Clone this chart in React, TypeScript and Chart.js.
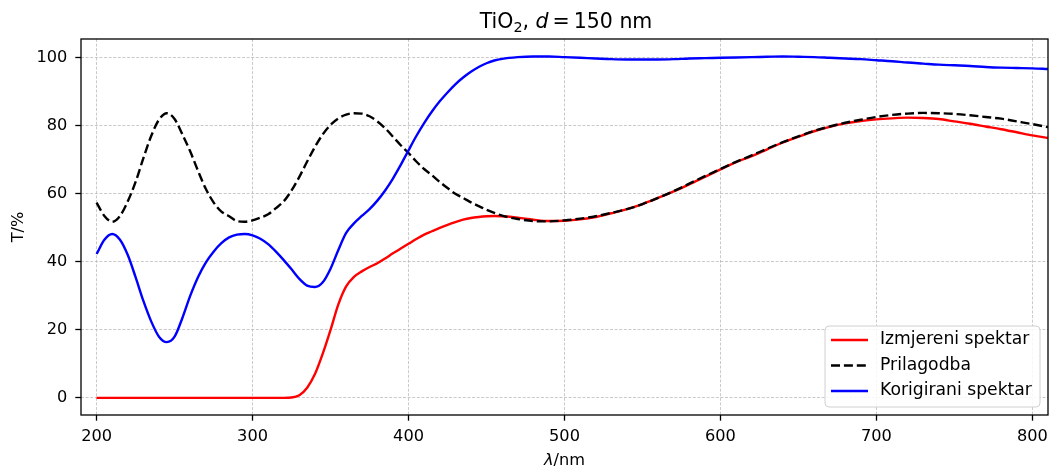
import React, { useEffect, useRef } from "react";
import { Chart, registerables } from "chart.js";

Chart.register(...registerables);

const wavelengths = [
  200, 205, 210, 215, 220, 225, 230, 235, 240, 245,
  250, 255, 260, 265, 270, 275, 280, 285, 290, 295,
  300, 305, 310, 315, 320, 325, 330, 335, 340, 345,
  350, 355, 360, 365, 370, 375, 380, 385, 390, 395,
  400, 405, 410, 415, 420, 425, 430, 435, 440, 445,
  450, 455, 460,
  470, 480, 490, 500, 510, 520, 530, 540, 550, 560,
  570, 580, 590, 600, 610, 620, 630, 640, 650, 660,
  670, 680, 690, 700, 710, 720, 730, 740, 750, 760,
  770, 780, 790, 800, 810,
];

// Izmjereni spektar (measured)
const measured = [
  0, 0, 0, 0, 0, 0, 0, 0, 0, 0,
  0, 0, 0, 0, 0, 0, 0, 0, 0, 0,
  0, 0, 0, 0, 0, 0.1, 0.8, 3.0, 7.0, 13.0,
  20.0, 27.5, 32.8, 35.6, 37.2, 38.5, 39.6, 41.0, 42.5, 43.9,
  45.3, 46.7, 48.0, 49.0, 50.0, 50.9, 51.7, 52.4, 52.9, 53.2,
  53.4, 53.5, 53.4,
  53.0, 52.4, 52.0, 52.1, 52.5, 53.2, 54.3, 55.5, 57.0, 58.8,
  60.7, 62.8, 65.0, 67.2, 69.3, 71.1, 73.1, 75.1, 76.8, 78.4,
  79.7, 80.7, 81.4, 81.9, 82.2, 82.4, 82.3, 82.0, 81.3, 80.6,
  79.8, 79.0, 78.1, 77.2, 76.4,
];

// Prilagodba (fit)
const fitted = [
  57.4, 53.5, 51.8, 53.5, 57.8, 63.5, 70.5, 77.0, 81.8, 83.7,
  82.0, 77.5, 72.5, 66.8, 61.5, 57.5, 54.8, 53.4, 52.0, 51.8,
  52.2, 53.0, 54.0, 55.8, 57.8, 61.0, 65.0, 69.5, 73.8, 77.5,
  80.3, 82.2, 83.3, 83.7, 83.6, 82.8, 81.3, 79.3, 76.8, 74.3,
  72.0, 69.5, 67.3, 65.5, 63.5, 61.7, 60.0, 58.8, 57.5, 56.4,
  55.3, 54.4, 53.6,
  52.6, 52.0, 51.9, 52.2, 52.7, 53.4, 54.4, 55.5, 57.0, 58.8,
  60.8, 63.0, 65.2, 67.3, 69.4, 71.3, 73.3, 75.2, 76.9, 78.5,
  79.8, 80.9, 81.8, 82.6, 83.2, 83.6, 83.8, 83.7, 83.5, 83.1,
  82.6, 82.1, 81.3, 80.5, 79.6,
];

// Korigirani spektar (corrected)
const corrected = [
  42.3, 46.5, 48.2, 46.5, 42.0, 35.5, 28.5, 22.5, 18.0, 16.4,
  18.0, 23.5, 30.0, 35.5, 39.8, 43.0, 45.5, 47.2, 48.0, 48.2,
  47.8, 46.8, 45.2, 43.0, 40.5, 37.8, 35.0, 33.0, 32.6, 34.0,
  38.0, 43.5, 48.5, 51.3, 53.5, 55.5, 58.0, 61.0, 64.5, 68.5,
  72.8, 77.0, 80.8, 84.2, 87.2, 89.8, 92.2, 94.2, 95.9, 97.3,
  98.4, 99.2, 99.7,
  100.2, 100.4, 100.4, 100.2, 100.0, 99.8, 99.6, 99.5, 99.5, 99.5,
  99.6, 99.8, 99.9, 100.0, 100.1, 100.2, 100.3, 100.4, 100.3, 100.2,
  100.0, 99.8, 99.6, 99.3, 99.0, 98.6, 98.3, 98.0, 97.8, 97.6,
  97.3, 97.1, 97.0, 96.9, 96.7,
];

const seriesLabels = ["Izmjereni spektar", "Prilagodba", "Korigirani spektar"];
const xTicks = [200, 300, 400, 500, 600, 700, 800];
const yTicks = [0, 20, 40, 60, 80, 100];

const FONT = "'DejaVu Sans', 'Liberation Sans', sans-serif";
const TICK_SIZE = 16.2;
const LEGEND_SIZE = 17.2;
const TITLE_SIZE = 20.5;

const toPoints = (ys: number[]) => wavelengths.map((x, i) => ({ x, y: ys[i] }));

const decorPlugin = {
  id: "decor",
  afterDraw(chart: any) {
    const { ctx, chartArea: a } = chart;
    ctx.save();
    ctx.setLineDash([]);

    // frame
    ctx.strokeStyle = "#000";
    ctx.lineWidth = 1.3;
    ctx.strokeRect(a.left, a.top, a.right - a.left, a.bottom - a.top);

    const cx = (a.left + a.right) / 2;

    // title: TiO2, d = 150 nm
    const tf = `${TITLE_SIZE}px ${FONT}`;
    const parts: { t: string; font: string; dy: number; gap: number }[] = [
      { t: "TiO", font: tf, dy: 0, gap: 0 },
      { t: "2", font: `${TITLE_SIZE * 0.7}px ${FONT}`, dy: 3.5, gap: 0 },
      { t: ", ", font: tf, dy: 0, gap: 0 },
      { t: "d", font: `italic ${TITLE_SIZE}px ${FONT}`, dy: 0, gap: 4 },
      { t: "=", font: tf, dy: 0, gap: 4 },
      { t: "150", font: tf, dy: 0, gap: 0 },
      { t: " nm", font: tf, dy: 0, gap: 0 },
    ];
    let total = 0;
    for (const p of parts) {
      ctx.font = p.font;
      total += ctx.measureText(p.t).width + p.gap;
    }
    let x = cx + 1.5 - total / 2;
    ctx.fillStyle = "#000";
    ctx.textBaseline = "alphabetic";
    ctx.textAlign = "left";
    for (const p of parts) {
      ctx.font = p.font;
      ctx.fillText(p.t, x, 28.3 + p.dy);
      x += ctx.measureText(p.t).width + p.gap;
    }

    // x-axis label: λ/nm
    const xl = [
      { t: "λ", font: `italic ${TICK_SIZE}px ${FONT}` },
      { t: "/nm", font: `${TICK_SIZE}px ${FONT}` },
    ];
    total = 0;
    for (const p of xl) {
      ctx.font = p.font;
      total += ctx.measureText(p.t).width;
    }
    x = cx - total / 2;
    for (const p of xl) {
      ctx.font = p.font;
      ctx.fillText(p.t, x, 464.5);
      x += ctx.measureText(p.t).width;
    }

    // y-axis label: T/%
    ctx.save();
    ctx.translate(18.8, (a.top + a.bottom) / 2);
    ctx.rotate(-Math.PI / 2);
    ctx.font = `${TICK_SIZE}px ${FONT}`;
    ctx.textAlign = "center";
    ctx.textBaseline = "middle";
    ctx.fillText("T/%", 0, 0);
    ctx.restore();

    // legend
    const bx = 825, by = 326, bw = 215, bh = 81, r = 4;
    ctx.beginPath();
    ctx.moveTo(bx + r, by);
    ctx.lineTo(bx + bw - r, by);
    ctx.arcTo(bx + bw, by, bx + bw, by + r, r);
    ctx.lineTo(bx + bw, by + bh - r);
    ctx.arcTo(bx + bw, by + bh, bx + bw - r, by + bh, r);
    ctx.lineTo(bx + r, by + bh);
    ctx.arcTo(bx, by + bh, bx, by + bh - r, r);
    ctx.lineTo(bx, by + r);
    ctx.arcTo(bx, by, bx + r, by, r);
    ctx.closePath();
    ctx.fillStyle = "rgba(255,255,255,0.85)";
    ctx.fill();
    ctx.strokeStyle = "#d0d0d0";
    ctx.lineWidth = 1;
    ctx.stroke();

    const rows = [340, 365.5, 391];
    chart.data.datasets.forEach((ds: any, i: number) => {
      const y = rows[i];
      ctx.beginPath();
      ctx.setLineDash(ds.borderDash || []);
      ctx.strokeStyle = ds.borderColor;
      ctx.lineWidth = ds.borderWidth;
      ctx.moveTo(831, y);
      ctx.lineTo(868, y);
      ctx.stroke();
      ctx.setLineDash([]);
      ctx.fillStyle = "#000";
      ctx.font = `${LEGEND_SIZE}px ${FONT}`;
      ctx.textAlign = "left";
      ctx.textBaseline = "middle";
      ctx.fillText(ds.label, 880, y);
    });

    ctx.restore();
  },
};

export default function App() {
  const ref = useRef<HTMLCanvasElement>(null);

  useEffect(() => {
    const gridCommon = {
      color: "rgba(176,176,176,0.85)",
      lineWidth: 0.8,
      drawTicks: true,
      tickLength: 5.7,
      tickColor: "#000",
      tickWidth: 1.3,
      tickBorderDash: [],
    };
    const chart = new Chart(ref.current!, {
      type: "line",
      data: {
        datasets: [
          {
            label: seriesLabels[0],
            data: toPoints(measured),
            borderColor: "#ff0000",
            borderWidth: 2.4,
            pointRadius: 0,
            cubicInterpolationMode: "monotone",
            fill: false,
            order: 3,
          },
          {
            label: seriesLabels[1],
            data: toPoints(fitted),
            borderColor: "#000000",
            borderWidth: 2.4,
            borderDash: [9, 3.9],
            pointRadius: 0,
            cubicInterpolationMode: "monotone",
            fill: false,
            order: 2,
          },
          {
            label: seriesLabels[2],
            data: toPoints(corrected),
            borderColor: "#0000ff",
            borderWidth: 2.4,
            pointRadius: 0,
            cubicInterpolationMode: "monotone",
            fill: false,
            order: 1,
          },
        ],
      },
      options: {
        responsive: false,
        animation: false,
        devicePixelRatio: 1,
        layout: { padding: { top: 39, right: 6, left: 0, bottom: 0 } },
        plugins: {
          legend: { display: false },
          title: { display: false },
          tooltip: { enabled: false },
        },
        scales: {
          x: {
            type: "linear",
            min: 190,
            max: 810,
            afterBuildTicks: (s: any) => {
              s.ticks = xTicks.map((v) => ({ value: v }));
            },
            afterFit: (s: any) => {
              s.height = 54;
            },
            ticks: {
              font: { family: FONT, size: TICK_SIZE },
              color: "#000",
              padding: 6,
              maxRotation: 0,
              autoSkip: false,
              callback: (v: any) => String(v),
            },
            grid: gridCommon,
            border: { display: false, dash: [3, 1.6] },
          },
          y: {
            type: "linear",
            min: -5.03,
            max: 105.53,
            afterBuildTicks: (s: any) => {
              s.ticks = yTicks.map((v) => ({ value: v }));
            },
            afterFit: (s: any) => {
              s.width = 81;
            },
            ticks: {
              font: { family: FONT, size: TICK_SIZE },
              color: "#000",
              padding: 8,
              autoSkip: false,
              callback: (v: any) => String(v),
            },
            grid: gridCommon,
            border: { display: false, dash: [3, 1.6] },
          },
        },
      },
      plugins: [decorPlugin],
    } as any);
    return () => chart.destroy();
  }, []);

  return (
    <div style={{ position: "fixed", left: 0, top: 0, width: 1054, height: 469, background: "#fff" }}>
      <canvas ref={ref} width={1054} height={469} style={{ display: "block", width: 1054, height: 469 }} />
    </div>
  );
}
